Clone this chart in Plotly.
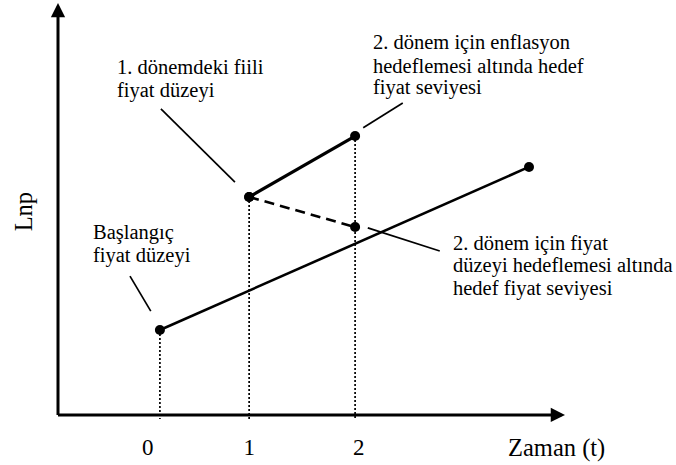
import plotly.graph_objects as go

# Period positions on the time axis (axis units) and their labels
donem_konum = [2.01, 3.77, 5.86]
donem_etiket = ["0", "1", "2"]
etiket_konum = [1.77, 3.77, 5.93]

# Initial price level trend path
trend_x = [2.01, 9.29]
trend_y = [2.06, 6.02]

# Period 2 target under inflation targeting
enflasyon_x = [3.77, 5.86]
enflasyon_y = [5.29, 6.77]

# Period 2 target under price-level targeting
fiyat_x = [3.77, 5.86]
fiyat_y = [5.29, 4.56]

# Reference drops from each period's level to the time axis
dusey_y = [2.06, 5.29, 6.77]

# Callout texts (one entry per line) with anchor (left x, line y values)
aciklamalar = [
    (["1. dönemdeki fiili", "fiyat düzeyi"], 1.12, [8.44, 7.88]),
    (["2. dönem için enflasyon", "hedeflemesi altında hedef", "fiyat seviyesi"],
     6.17, [9.03, 8.47, 7.94]),
    (["Başlangıç", "fiyat düzeyi"], 0.65, [4.44, 3.88]),
    (["2. dönem için fiyat", "düzeyi hedeflemesi altında", "hedef fiyat seviyesi"],
     7.75, [4.17, 3.62, 3.06]),
]

# Callout leader segments: (x0, x1), (y0, y1)
isaretciler = [
    ((2.03, 3.49), (7.43, 5.65)),
    ((6.02, 6.80), (6.97, 7.57)),
    ((1.42, 1.83), (3.37, 2.52)),
    ((6.11, 7.53), (4.54, 3.98)),
]

# Axis titles
y_baslik = "Lnp"
x_baslik = "Zaman (t)"

SERIF = "Liberation Serif"
INK = "#000000"

fig = go.Figure()

# dotted verticals down to the time axis
for x, y in zip(donem_konum, dusey_y):
    fig.add_trace(go.Scatter(
        x=[x, x], y=[y, -0.1], mode="lines",
        line=dict(color=INK, width=1.7, dash="2px,2px"),
        hoverinfo="skip", showlegend=False))

# leader lines for the callouts
for (lx, ly) in isaretciler:
    fig.add_trace(go.Scatter(
        x=list(lx), y=list(ly), mode="lines",
        line=dict(color=INK, width=1.7),
        hoverinfo="skip", showlegend=False))

fig.add_trace(go.Scatter(
    x=trend_x, y=trend_y, mode="lines+markers",
    line=dict(color=INK, width=2.6),
    marker=dict(color=INK, size=10), showlegend=False))

fig.add_trace(go.Scatter(
    x=enflasyon_x, y=enflasyon_y, mode="lines+markers",
    line=dict(color=INK, width=3.2),
    marker=dict(color=INK, size=10), showlegend=False))

fig.add_trace(go.Scatter(
    x=fiyat_x, y=fiyat_y, mode="lines+markers",
    line=dict(color=INK, width=2.6, dash="10px,6px"),
    marker=dict(color=INK, size=10), showlegend=False))

annotations = []

# axes drawn as arrows
annotations.append(dict(x=10, y=0, ax=-0.03, ay=0, xref="x", yref="y",
                        axref="x", ayref="y", text="", showarrow=True,
                        arrowhead=2, arrowsize=0.95, arrowwidth=3,
                        arrowcolor=INK, standoff=0))
annotations.append(dict(x=0, y=10, ax=0, ay=-0.04, xref="x", yref="y",
                        axref="x", ayref="y", text="", showarrow=True,
                        arrowhead=2, arrowsize=0.95, arrowwidth=3,
                        arrowcolor=INK, standoff=0))

for satirlar, x0, ys in aciklamalar:
    for satir, yy in zip(satirlar, ys):
        annotations.append(dict(x=x0, y=yy, xref="x", yref="y", text=satir,
                                showarrow=False, xanchor="left",
                                yanchor="middle",
                                font=dict(family=SERIF, size=20.5, color=INK)))

annotations.append(dict(x=-0.068, y=0.498, xref="paper", yref="paper",
                        text=y_baslik, showarrow=False, textangle=-90,
                        xanchor="center", yanchor="middle",
                        font=dict(family=SERIF, size=24.5, color=INK)))
annotations.append(dict(x=0.984, y=-0.07, xref="paper", yref="paper",
                        text=x_baslik, showarrow=False,
                        xanchor="center", yanchor="middle",
                        font=dict(family=SERIF, size=24.5, color=INK)))

fig.update_layout(
    width=676, height=465,
    margin=dict(l=58, r=111, t=3, b=46),
    paper_bgcolor="white", plot_bgcolor="white",
    font=dict(family=SERIF, color=INK),
    annotations=annotations,
    xaxis=dict(range=[0, 10], showgrid=False, zeroline=False, showline=False,
               tickvals=etiket_konum, ticktext=donem_etiket, ticks="",
               ticklabelstandoff=12,
               tickfont=dict(family=SERIF, size=23, color=INK),
               fixedrange=True),
    yaxis=dict(range=[-0.1, 10], showgrid=False, zeroline=False,
               showline=False, showticklabels=False, ticks="",
               fixedrange=True),
)

fig.write_html("out.html")
